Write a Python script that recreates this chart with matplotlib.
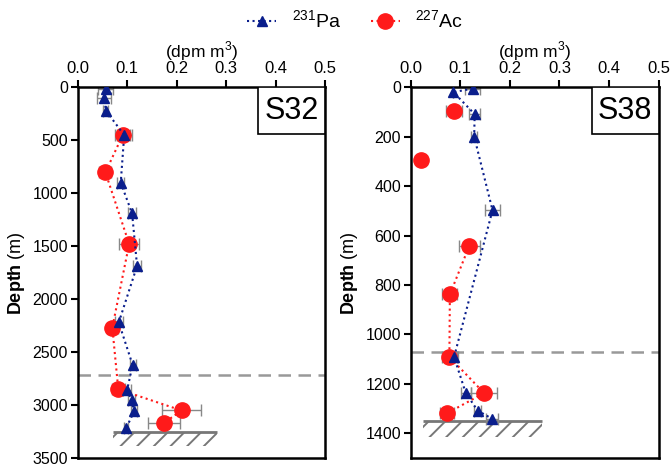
import numpy as np
import matplotlib.pyplot as plt
from matplotlib.lines import Line2D
from matplotlib.patches import Rectangle

plt.rcParams['font.family'] = ['Liberation Sans', 'DejaVu Sans']
plt.rcParams['mathtext.fontset'] = 'custom'
plt.rcParams['mathtext.rm'] = 'Liberation Sans'
plt.rcParams['mathtext.bf'] = 'Liberation Sans:bold'
plt.rcParams['hatch.linewidth'] = 1.4

# S32
s32_pa_depth = [19, 104, 220, 450, 900, 1190, 1686, 2220, 2620, 2856, 2956, 3060, 3217]
s32_pa = [0.057, 0.054, 0.057, 0.094, 0.087, 0.110, 0.120, 0.083, 0.111, 0.100, 0.109, 0.114, 0.098]
s32_pa_err = [0.015, 0.014, 0.005, 0.015, 0.007, 0.008, 0.008, 0.008, 0.006, 0.008, 0.007, 0.006, 0.004]
s32_ac_depth = [450, 802, 1478, 2268, 2850, 3051, 3170]
s32_ac = [0.091, 0.056, 0.104, 0.070, 0.082, 0.210, 0.174]
s32_ac_err = [0.015, 0.012, 0.020, 0.011, 0.013, 0.039, 0.032]
s32_mixed = 2720
s32_floor = (3250, 3385, 0.072, 0.282)

# S38
s38_pa_depth = [5, 19, 108, 199, 497, 1091, 1237, 1308, 1341]
s38_pa = [0.125, 0.086, 0.129, 0.128, 0.165, 0.0875, 0.111, 0.135, 0.164]
s38_pa_err = [0.015, 0.0, 0.011, 0.006, 0.016, 0.008, 0.010, 0.007, 0.012]
s38_ac_depth = [97, 293, 642, 838, 1091, 1237, 1318]
s38_ac = [0.0875, 0.021, 0.118, 0.079, 0.078, 0.148, 0.074]
s38_ac_err = [0.016, 0.0, 0.021, 0.015, 0.015, 0.026, 0.014]
s38_ac_line_from = 2
s38_mixed = 1071
s38_floor = (1352, 1416, 0.025, 0.265)

pa_color = '#0a1e8c'
ac_color = '#ff1a1a'
err_color = '#888888'

fig = plt.figure(figsize=(6.7, 4.65), dpi=100)
ax1 = fig.add_axes([0.116, 0.015, 0.369, 0.797])
ax2 = fig.add_axes([0.613, 0.015, 0.370, 0.797])


def panel(ax, name, pa_d, pa, pa_e, ac_d, ac, ac_e, mixed, floor, ymax, ystep, ac_from=0):
    top, bot, x0, x1 = floor
    ax.fill_between([x0, x1], top, bot, facecolor='white', edgecolor='#777777',
                    hatch='//', linewidth=0, zorder=1)
    ax.hlines(top, x0, x1, color='#777777', lw=2, zorder=1.5)
    ax.axhline(mixed, color='#999999', ls=(0, (5, 3)), lw=1.8, zorder=1, clip_on=False)

    ax.errorbar(pa, pa_d, xerr=pa_e, fmt='none', ecolor=err_color, elinewidth=1,
                capsize=4, capthick=1, zorder=2)
    ax.errorbar(ac, ac_d, xerr=ac_e, fmt='none', ecolor=err_color, elinewidth=1,
                capsize=4, capthick=1, zorder=2)
    ax.plot(ac[ac_from:], ac_d[ac_from:], ls=':', lw=1.5, color=ac_color, zorder=3)
    ax.plot(ac, ac_d, ls='none', marker='o', ms=11, color=ac_color, zorder=4)
    ax.plot(pa, pa_d, ls=':', lw=1.5, color=pa_color, marker='^', ms=6.5, zorder=5)

    ax.set_xlim(0, 0.5)
    ax.set_ylim(ymax, 0)
    ax.set_xticks(np.arange(0, 0.51, 0.1))
    ax.set_xticklabels(['0.0', '0.1', '0.2', '0.3', '0.4', '0.5'])
    ax.set_yticks(np.arange(0, ymax + 1, ystep))
    ax.xaxis.tick_top()
    ax.xaxis.set_label_position('top')
    ax.tick_params(axis='both', width=1.5, length=5, direction='out', pad=2)
    ax.tick_params(axis='x', labelsize=12, pad=3)
    ax.tick_params(axis='y', labelsize=11.5)
    for sp in ax.spines.values():
        sp.set_linewidth(1.8)
    ax.set_xlabel('(dpm m$^{3}$)', fontsize=12.5)
    ax.xaxis.set_label_coords(0.5, 1.082)
    ax.set_ylabel(r'$\mathbf{Depth}$ (m)', fontsize=13, labelpad=4)
    ax.add_patch(Rectangle((0.73, 0.874), 0.27, 0.126, transform=ax.transAxes,
                           facecolor='white', edgecolor='black', lw=1.2, zorder=6))
    ax.text(0.865, 0.937, name, transform=ax.transAxes, ha='center', va='center',
            fontsize=22, zorder=7)


panel(ax1, 'S32', s32_pa_depth, s32_pa, s32_pa_err, s32_ac_depth, s32_ac, s32_ac_err,
      s32_mixed, s32_floor, 3500, 500)
panel(ax2, 'S38', s38_pa_depth, s38_pa, s38_pa_err, s38_ac_depth, s38_ac, s38_ac_err,
      s38_mixed, s38_floor, 1500, 200, ac_from=s38_ac_line_from)

handles = [
    Line2D([], [], ls=':', lw=1.5, color=pa_color, marker='^', ms=6.5),
    Line2D([], [], ls=':', lw=1.5, color=ac_color, marker='o', ms=11),
]
fig.legend(handles, ['$^{231}$Pa', '$^{227}$Ac'], loc='center', bbox_to_anchor=(0.53, 0.955),
           ncol=2, frameon=False, fontsize=14, handlelength=1.5, handletextpad=0.8,
           columnspacing=1.5)

fig.savefig('out.png', dpi=100)
